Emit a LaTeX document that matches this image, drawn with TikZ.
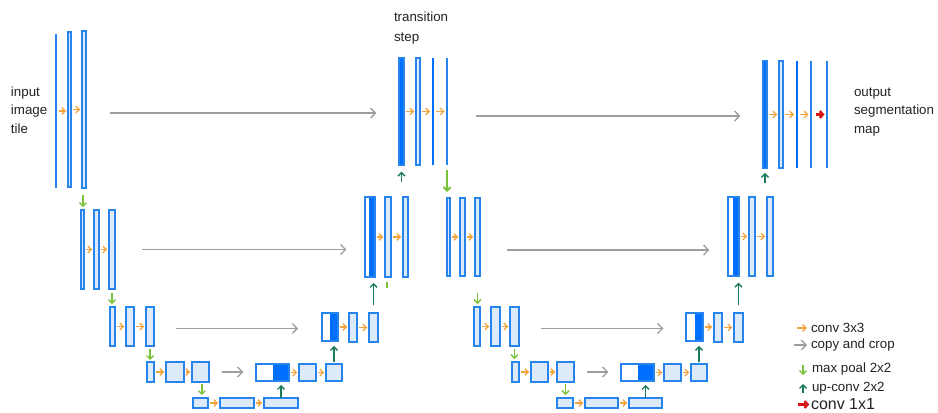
\documentclass[tikz,border=0pt]{standalone}
\usepackage{fontspec}
\setmainfont{Liberation Sans}
\usetikzlibrary{arrows.meta,fit,calc}
\definecolor{ublue}{RGB}{38,132,236}
\definecolor{ufill}{RGB}{220,234,250}
\definecolor{udark}{RGB}{0,110,255}
\definecolor{uorange}{RGB}{242,163,58}
\definecolor{ugray}{RGB}{158,158,158}
\definecolor{lgreen}{RGB}{122,194,58}
\definecolor{dgreen}{RGB}{28,122,92}
\definecolor{ured}{RGB}{214,22,22}
\definecolor{utext}{RGB}{35,35,35}
\newcommand\ubx[6]{\node[#1, fit={(#3,#4) (#5,#6)}] (#2) {};}
\begin{document}
\begin{tikzpicture}[x=0.75pt,y=-0.75pt,
  ubox/.style={draw=ublue, fill=ufill, line width=1.1pt, inner sep=0pt, outer sep=0pt, minimum width=0pt, minimum height=0pt},
  uline/.style={fill=ublue, draw=none, inner sep=0pt, outer sep=0pt, minimum width=0pt, minimum height=0pt},
  uthick/.style={fill=udark, draw=none, inner sep=0pt, outer sep=0pt, minimum width=0pt, minimum height=0pt},
  ufull/.style={ubox, fill=udark},
  uhalf/.style={ubox, fill=white, path picture={\fill[udark] ($(path picture bounding box.south west)!#1!(path picture bounding box.south east)$) rectangle (path picture bounding box.north east);}},
  conv/.style={draw=uorange, line width=1pt, -{Straight Barb[length=2.6pt,width=5pt]}, shorten <=1.5pt, shorten >=1.3pt},
  cpy/.style={draw=ugray, line width=1pt, -{Straight Barb[length=3.6pt,width=7.5pt]}},
  pool/.style={draw=lgreen, line width=1pt, -{Straight Barb[length=2.6pt,width=5.2pt]}},
  upc/.style={draw=dgreen, line width=1pt, -{Straight Barb[length=2.6pt,width=5.2pt]}},
  onex/.style={draw=ured, line width=1.8pt, -{Straight Barb[length=2.4pt,width=5pt]}},
  txt/.style={inner sep=0pt, outer sep=0pt, align=left, text=utext, font=\fontsize{10}{14}\selectfont},
  lbl/.style={inner sep=0pt, outer sep=0pt, anchor=west, text=utext, font=\fontsize{10}{12}\selectfont}
]
\fill[white] (0,0) rectangle (938,413);
\useasboundingbox (0,0) rectangle (938,413);

% ---- level 1 (input)
\ubx{uline}{i1}{55.25}{34}{56.75}{188}
\ubx{ubox}{i2}{68}{32}{71}{187}
\ubx{ubox}{i3}{82}{31}{86}{188}
% ---- level 2 left
\ubx{ubox}{a1}{81}{210}{84}{289}
\ubx{ubox}{a2}{94}{210}{99}{289}
\ubx{ubox}{a3}{109}{210}{115}{289}
% ---- level 3 left
\ubx{ubox}{b1}{110}{307}{115}{346}
\ubx{ubox}{b2}{126}{307}{134}{346}
\ubx{ubox}{b3}{146}{307}{154}{346}
% ---- level 4 left
\ubx{ubox}{c1}{147}{362}{154}{382}
\ubx{ubox}{c2}{166}{362}{184}{382}
\ubx{ubox}{c3}{192}{362}{209}{382}
% ---- level 5 (first)
\ubx{ubox}{d1}{193}{398}{208}{408}
\ubx{ubox}{d2}{220}{398}{254}{408}
\ubx{ubox}{d3}{264}{398}{298}{408}
% ---- level 4 up
\ubx{uhalf=0.5}{e1}{256}{364}{289}{381}
\ubx{ubox}{e2}{299}{364}{316}{381}
\ubx{ubox}{e3}{326}{364}{342}{381}
% ---- level 3 up
\ubx{uhalf=0.5}{f1}{322}{313}{338}{341}
\ubx{ubox}{f2}{349}{313}{357}{342}
\ubx{ubox}{f3}{369}{313}{378}{342}
% ---- level 2 up
\ubx{uhalf=0.42}{g1}{365}{197}{375}{277}
\ubx{ubox}{g2}{385}{197}{391}{277}
\ubx{ubox}{g3}{403}{197}{408}{277}
% ---- transition step
\ubx{ufull}{t1}{399}{58}{404}{165}
\ubx{ubox}{t2}{416}{58}{420}{165}
\ubx{uthick}{t3}{431.8}{58}{434.2}{165}
\ubx{uline}{t4}{446.25}{58}{447.75}{165}
% ---- second U: down path
\ubx{ubox}{h1}{447}{198}{450}{276}
\ubx{ubox}{h2}{460}{198}{465}{276}
\ubx{ubox}{h3}{475}{198}{480}{276}
\ubx{ubox}{j1}{474}{307}{480}{346}
\ubx{ubox}{j2}{491}{307}{500}{346}
\ubx{ubox}{j3}{510}{307}{519}{346}
\ubx{ubox}{k1}{512}{362}{519}{382}
\ubx{ubox}{k2}{531}{362}{548}{382}
\ubx{ubox}{k3}{557}{362}{574}{382}
\ubx{ubox}{m1}{557}{398}{573}{408}
\ubx{ubox}{m2}{585}{398}{618}{408}
\ubx{ubox}{m3}{629}{398}{662}{408}
% ---- second U: up path
\ubx{uhalf=0.5}{n1}{621}{364}{654}{381}
\ubx{ubox}{n2}{664}{364}{681}{381}
\ubx{ubox}{n3}{691}{364}{707}{381}
\ubx{uhalf=0.5}{p1}{686}{313}{703}{341}
\ubx{ubox}{p2}{714}{313}{722}{342}
\ubx{ubox}{p3}{734}{313}{743}{342}
\ubx{uhalf=0.45}{q1}{728}{197}{739}{276}
\ubx{ubox}{q2}{749}{197}{755}{276}
\ubx{ubox}{q3}{767}{197}{773}{276}
% ---- output
\ubx{ufull}{o1}{763}{61}{767}{168}
\ubx{ubox}{o2}{779}{61}{783}{168}
\ubx{uthick}{o3}{795.8}{61}{798.2}{168}
\ubx{uline}{o4}{810.25}{61}{811.75}{168}
\ubx{uline}{o5}{826.25}{61}{827.75}{168}

% ---- texts
\node[txt, anchor=west] (inp) at (11,110) {input\\image\\tile};
\node[txt, anchor=west, font=\fontsize{10}{15}\selectfont] (trs) at (394,28) {transition\\step};
\node[txt, anchor=west] (outp) at (854,112) {output\\segmentation\\map};

% ---- conv 3x3 arrows
\foreach \a/\b in {i1/i2,i2/i3,a1/a2,a2/a3,b1/b2,b2/b3,c1/c2,c2/c3,d1/d2,d2/d3,e1/e2,e2/e3,f1/f2,f2/f3,g1/g2,g2/g3,t1/t2,t2/t3,t3/t4,h1/h2,h2/h3,j1/j2,j2/j3,k1/k2,k2/k3,m1/m2,m2/m3,n1/n2,n2/n3,p1/p2,p2/p3,q1/q2,q2/q3,o1/o2,o2/o3,o3/o4}
  \draw[conv] (\a.east) -- (\a.east -| \b.west);
% ---- conv 1x1
\draw[onex, shorten <=3pt, shorten >=1.2pt] (o4.east) -- (o4.east -| o5.west);

% ---- copy and crop
\draw[cpy, shorten <=18pt, shorten >=17pt] ([yshift=-1.2pt]i3.east |- t1) -- ([yshift=-1.2pt]t1.west);
\draw[cpy, shorten <=21pt, shorten >=17pt] ([yshift=-1.2pt]t4.east |- o1) -- ([yshift=-1.2pt]o1.west);
\draw[cpy, shorten <=20pt, shorten >=14pt] (a3.east) -- (a3.east -| g1.west);
\draw[cpy, shorten <=20pt, shorten >=14pt] ([yshift=-9.75pt]h3.east) -- ([yshift=-9.75pt]h3.east -| q1.west);
\draw[cpy, shorten <=16.5pt, shorten >=18pt] ([yshift=-1.5pt]b3.east) -- ([yshift=-1.5pt]b3.east -| f1.west);
\draw[cpy, shorten <=16.5pt, shorten >=17pt] ([yshift=-1.5pt]j3.east) -- ([yshift=-1.5pt]j3.east -| p1.west);
\draw[cpy, shorten <=9.5pt, shorten >=9.5pt] (c3.east) -- (c3.east -| e1.west);
\draw[cpy, shorten <=9.5pt, shorten >=9.5pt] (k3.east) -- (k3.east -| n1.west);

% ---- max pool (down)
\draw[pool, shorten <=5pt, shorten >=2.2pt] ([xshift=-0.8pt]i3.south) -- ([xshift=-0.8pt]i3.south |- a1.north);
\draw[pool, shorten <=3pt, shorten >=2.2pt] (a3.south) -- (a3.south |- b1.north);
\draw[pool, shorten <=2.2pt, shorten >=1.5pt] (b3.south) -- (b3.south |- c1.north);
\draw[pool, shorten <=1.5pt, shorten >=2.2pt] ([xshift=1pt]c3.south) -- ([xshift=1pt]c3.south |- d1.north);
\draw[pool, line width=1.5pt, shorten <=3.7pt, shorten >=4.5pt] (t4.south) -- (t4.south |- h1.north);
\draw[pool, shorten <=12.5pt, shorten >=2.2pt] (h3.south) -- (h3.south |- j1.north);
\draw[pool, shorten <=2.2pt, shorten >=2.2pt] (j3.south) -- (j3.south |- k1.north);
\draw[pool, shorten <=1.5pt, shorten >=2.2pt] (k3.south) -- (k3.south |- m1.north);
\draw[lgreen, line width=0.9pt, shorten <=3.8pt, shorten >=18.7pt] ([xshift=-0.8pt]g2.south) -- ([xshift=-0.8pt]g2.south |- f2.north);

% ---- up-conv
\draw[upc, shorten <=0pt, shorten >=3pt] (d3.north) -- (d3.north |- e1.south);
\draw[upc, shorten <=1.5pt, shorten >=3.7pt] (e3.north) -- (e3.north |- f1.south);
\draw[upc, shorten <=6pt, shorten >=4.5pt] (f3.north) -- (f3.north |- g1.south);
\draw[upc, shorten <=11pt, shorten >=5pt] (t1.south |- g3.north) -- (t1.south);
\draw[upc, shorten <=0pt, shorten >=3pt] (m3.north) -- (m3.north |- n1.south);
\draw[upc, shorten <=1.5pt, shorten >=3.7pt] (n3.north) -- (n3.north |- p1.south);
\draw[upc, shorten <=6pt, shorten >=5pt] (p3.north) -- (p3.north |- q1.south);
\draw[upc, shorten <=10.5pt, shorten >=3.7pt] (o1.south |- q3.north) -- (o1.south);

% ---- legend
\node[lbl] (L1) at (811,328) {conv 3x3};
\node[lbl] (L2) at (811,345) {copy and crop};
\node[lbl] (L3) at (812,369) {max poal 2x2};
\node[lbl] (L4) at (812,388) {up-conv 2x2};
\node[lbl, font=\fontsize{12}{14}\selectfont] (L5) at (811,404.5) {conv 1x1};
\coordinate (g1a) at (797,328);
\coordinate (g2a) at (794,345);
\coordinate (g3a) at (803,365);
\coordinate (g3b) at (803,375);
\coordinate (g4a) at (803,393);
\coordinate (g4b) at (803,384);
\coordinate (g5a) at (798,404.5);
\draw[conv, shorten <=0pt, shorten >=3pt] (g1a) -- (L1.west);
\draw[cpy, shorten >=3pt] (g2a) -- (L2.west);
\draw[pool] (g3a) -- (g3b);
\draw[upc] (g4a) -- (g4b);
\draw[onex, shorten >=1.2pt] (g5a) -- (L5.west);
\end{tikzpicture}
\end{document}
